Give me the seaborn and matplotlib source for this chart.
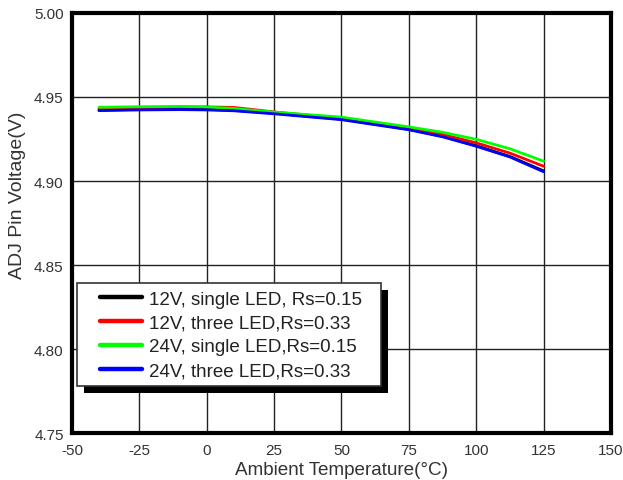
import numpy as np
import pandas as pd
import matplotlib
matplotlib.use("Agg")
import matplotlib.pyplot as plt
from matplotlib.lines import Line2D
from matplotlib.patches import Rectangle
from matplotlib.transforms import IdentityTransform
from matplotlib.legend_handler import HandlerLine2D
import seaborn as sns

# Ambient temperature sweep (°C)
temperature = [-40, -25, -10, 0, 10, 25, 50, 75, 87.5, 100, 112.5, 125]

# ADJ pin voltage (V) for each configuration
v_12v_single = [4.9422, 4.9426, 4.9428, 4.9426, 4.9421, 4.9403, 4.9368, 4.9308, 4.9266, 4.9210, 4.9146, 4.9060]
v_12v_three = [4.9431, 4.9436, 4.9440, 4.9441, 4.9438, 4.9411, 4.9373, 4.9315, 4.9277, 4.9227, 4.9166, 4.9088]
v_24v_single = [4.9439, 4.9442, 4.9444, 4.9440, 4.9432, 4.9410, 4.9380, 4.9322, 4.9290, 4.9248, 4.9192, 4.9118]
v_24v_three = [4.9419, 4.9423, 4.9425, 4.9423, 4.9418, 4.9400, 4.9365, 4.9305, 4.9263, 4.9207, 4.9143, 4.9055]

series_names = [
    "12V, single LED, Rs=0.15",
    "12V, three LED,Rs=0.33",
    "24V, single LED,Rs=0.15",
    "24V, three LED,Rs=0.33",
]
series_colors = ["#000000", "#ff0000", "#00ff00", "#0000ff"]

x_ticks = [-50, -25, 0, 25, 50, 75, 100, 125, 150]
y_ticks = [4.75, 4.80, 4.85, 4.90, 4.95, 5.00]

frames = []
for name, vals in zip(series_names, [v_12v_single, v_12v_three, v_24v_single, v_24v_three]):
    frames.append(pd.DataFrame({"temp": temperature, "volt": vals, "series": name}))
df = pd.concat(frames, ignore_index=True)

sns.set_theme(style="white")
plt.rcParams["font.family"] = ["Liberation Sans", "DejaVu Sans"]

fig = plt.figure(figsize=(6.23, 4.81), dpi=100)
ax = fig.add_axes([0.1156, 0.0977, 0.8651, 0.8732])

sns.lineplot(data=df, x="temp", y="volt", hue="series", hue_order=series_names,
             palette=series_colors, linewidth=2.0, ax=ax, legend=False)

ax.set_xlim(-50, 150)
ax.set_ylim(4.75, 5.00)
ax.set_xticks(x_ticks)
ax.set_yticks(y_ticks)
ax.set_xticklabels([str(t) for t in x_ticks])
ax.set_yticklabels([f"{t:.2f}" for t in y_ticks])
ax.grid(True, color="#222222", linewidth=1.0)
ax.set_axisbelow(True)
for s in ax.spines.values():
    s.set_color("black")
    s.set_linewidth(3)
ax.tick_params(axis="x", labelcolor="#333333", labelsize=11, length=0, pad=7)
ax.tick_params(axis="y", labelcolor="#333333", labelsize=11, length=0, pad=6)

ax.set_xlabel("Ambient Temperature(°C)", fontsize=13.6, color="#333333")
ax.set_ylabel("ADJ Pin Voltage(V)", fontsize=14, color="#333333")
ax.xaxis.set_label_coords(0.5, -0.066)
ax.yaxis.set_label_coords(-0.086, 0.569)


class IndentedLineHandler(HandlerLine2D):
    """Line handle that starts a little right of the handle box."""

    def __init__(self, lead=0.0, **kw):
        super().__init__(**kw)
        self.lead = lead

    def create_artists(self, legend, orig_handle, xdescent, ydescent, width,
                       height, fontsize, trans):
        artists = super().create_artists(legend, orig_handle, xdescent, ydescent,
                                         width, height, fontsize, trans)
        for a in artists:
            xd = np.asarray(a.get_xdata(), dtype=float)
            if xd.size >= 2:
                xd = xd.copy()
                xd[0] = xd[0] + self.lead * fontsize
                a.set_xdata(xd)
        return artists


handles = [Line2D([0], [0], color=c, linewidth=3.2) for c in series_colors]
leg = ax.legend(handles, series_names, loc="upper left", bbox_to_anchor=(0.0093, 0.357),
                fontsize=13.5, frameon=False, borderpad=0.39, labelspacing=0.36,
                handlelength=3.1, handletextpad=0.37, borderaxespad=0,
                handler_map={Line2D: IndentedLineHandler(lead=0.85)})
leg.set_zorder(6)
for t in leg.get_texts():
    t.set_color("#222222")

# Boxed legend frame with a solid offset drop shadow
fig.canvas.draw()
bb = leg.get_window_extent()
extra_right = 11
shadow_off = 7
shadow = Rectangle((bb.x0 + shadow_off, bb.y0 - shadow_off), bb.width + extra_right, bb.height,
                   transform=IdentityTransform(), facecolor="black", edgecolor="none",
                   zorder=4.8, clip_on=False)
frame = Rectangle((bb.x0, bb.y0), bb.width + extra_right, bb.height,
                  transform=IdentityTransform(), facecolor="white", edgecolor="#333333",
                  linewidth=1.2, zorder=4.9, clip_on=False)
ax.add_artist(shadow)
ax.add_artist(frame)

fig.savefig("out.png", dpi=100)
